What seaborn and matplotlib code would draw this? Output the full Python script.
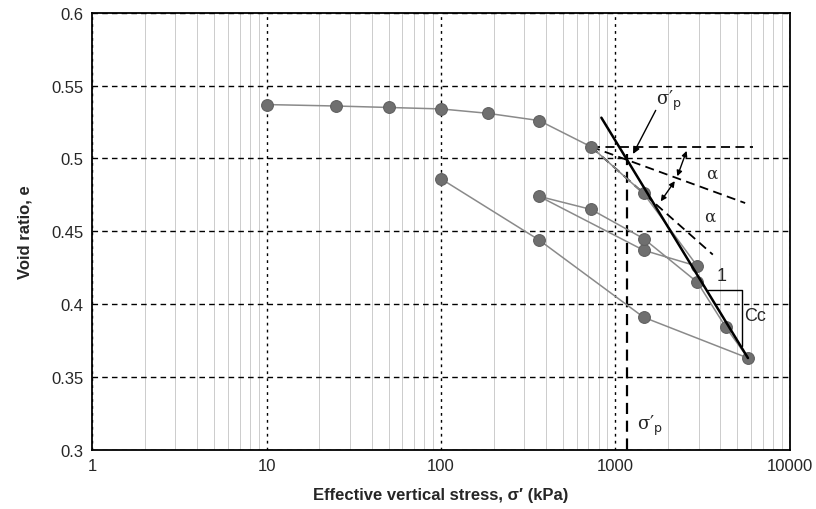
"""
Void ratio vs effective vertical stress (oedometer test) with Casagrande construction
"""

# import section
import numpy as np
import pandas as pd
import seaborn as sns
import matplotlib.pyplot as plt
from matplotlib.ticker import FixedLocator, LogLocator, NullFormatter

# test data, in loading / unloading order
STRESS = [10, 25, 50, 100, 185, 365, 725, 1450, 2950, 1450, 365, 725, 1450, 2950,
          4300, 5750, 1450, 365, 100]
VOID_RATIO = [0.537, 0.536, 0.535, 0.534, 0.531, 0.526, 0.508, 0.476, 0.426, 0.437,
              0.474, 0.465, 0.445, 0.415, 0.384, 0.363, 0.391, 0.444, 0.486]
STEP = list(range(len(STRESS)))

X_TICKS = [1, 10, 100, 1000, 10000]
X_LABELS = ['1', '10', '100', '1000', '10000']
Y_TICKS = [0.3, 0.35, 0.4, 0.45, 0.5, 0.55, 0.6]
Y_LABELS = ['0.3', '0.35', '0.4', '0.45', '0.5', '0.55', '0.6']

# Casagrande construction
SIGMA_P = 1160
KNEE = (725, 0.508)
HORIZ_END = 6150
TANGENT_END = (3615, 0.434)
BISECT_END = (5540, 0.4694)
CC_LINE = ([830, 5750], [0.528, 0.363])
TRIANGLE = ([3385, 5330, 5330], [0.4097, 0.4097, 0.3715])

DATA = pd.DataFrame({'step': STEP, 'stress': STRESS, 'e': VOID_RATIO})

# set plot dimensions
X_PIXELS, Y_PIXELS, DPI = 816, 510, 100
X_INCH, Y_INCH = X_PIXELS / DPI, Y_PIXELS / DPI

sns.set_style('white')
plt.rcParams['font.family'] = ['Liberation Sans', 'DejaVu Sans']

fig = plt.figure(figsize=(X_INCH, Y_INCH), dpi=DPI)
ax = fig.add_axes([0.113, 0.116, 0.855, 0.857])

sns.lineplot(data=DATA, x='stress', y='e', sort=False, estimator=None,
             color='#8a8a8a', linewidth=1.1, marker='o', markersize=8.5,
             markerfacecolor='#6f6f6f', markeredgecolor='#5f5f5f', ax=ax, zorder=3)

ax.set_xscale('log')
ax.set_xlim(1, 10000)
ax.set_ylim(0.3, 0.6)
ax.xaxis.set_major_locator(FixedLocator(X_TICKS))
ax.set_xticklabels(X_LABELS)
ax.xaxis.set_minor_locator(LogLocator(base=10, subs=np.arange(2, 10)))
ax.xaxis.set_minor_formatter(NullFormatter())
ax.set_yticks(Y_TICKS)
ax.set_yticklabels(Y_LABELS)
ax.tick_params(which='major', labelsize=12, length=3, color='k', pad=3)
ax.tick_params(which='minor', length=0)

# grid
ax.grid(which='minor', axis='x', color='#cccccc', linewidth=0.7, linestyle='-')
ax.grid(which='major', axis='x', color='k', linewidth=1.0, linestyle=(0, (2, 3)))
ax.grid(which='major', axis='y', color='k', linewidth=1.0, linestyle=(0, (4, 3)))
ax.set_axisbelow(True)
for side in ax.spines.values():
    side.set_color('k')
    side.set_linewidth(1.3)

# construction lines
ax.plot([SIGMA_P, SIGMA_P], [0.503, 0.3], color='k', lw=1.6, ls=(0, (5, 3)), zorder=2)
ax.plot([KNEE[0], HORIZ_END], [KNEE[1], KNEE[1]], color='k', lw=1.3, ls=(0, (5, 3)), zorder=2)
ax.plot([KNEE[0], TANGENT_END[0]], [KNEE[1], TANGENT_END[1]], color='k', lw=1.3,
        ls=(0, (5, 3)), zorder=2)
ax.plot([KNEE[0], BISECT_END[0]], [KNEE[1], BISECT_END[1]], color='k', lw=1.3,
        ls=(0, (5, 3)), zorder=2)
ax.plot(CC_LINE[0], CC_LINE[1], color='k', lw=1.8, zorder=4)
ax.plot(TRIANGLE[0], TRIANGLE[1], color='k', lw=1.0, zorder=4)

# arrows and labels
arrow = dict(arrowstyle='-|>', color='k', lw=1.0, mutation_scale=10)
ax.annotate('', xy=(1240, 0.5014), xytext=(1730, 0.5347), arrowprops=arrow)
dbl = dict(arrowstyle='<|-|>', color='k', lw=1.0, mutation_scale=8)
ax.annotate('', xy=(2590, 0.507), xytext=(2235, 0.486), arrowprops=dbl)
ax.annotate('', xy=(2235, 0.486), xytext=(1780, 0.469), arrowprops=dbl)

ax.text(1700, 0.540, "σ′$_{\\mathrm{p}}$", fontsize=13, ha='left', va='center',
        family=['DejaVu Serif'])
ax.text(3330, 0.4896, 'α', fontsize=12, ha='left', va='center', family=['DejaVu Serif'])
ax.text(3240, 0.4604, 'α', fontsize=12, ha='left', va='center', family=['DejaVu Serif'])
ax.text(3800, 0.420, '1', fontsize=13, ha='left', va='center')
ax.text(5500, 0.392, 'Cc', fontsize=13, ha='left', va='center')
ax.text(1325, 0.317, "σ′$_{\\mathrm{p}}$", fontsize=13, ha='left', va='center',
        family=['DejaVu Serif'])

ax.set_xlabel('Effective vertical stress, σ′ (kPa)', fontsize=12, fontweight='bold',
              labelpad=10)
ax.set_ylabel('Void ratio, e', fontsize=12, fontweight='bold', labelpad=14)

plt.savefig('out.png', dpi=DPI)
